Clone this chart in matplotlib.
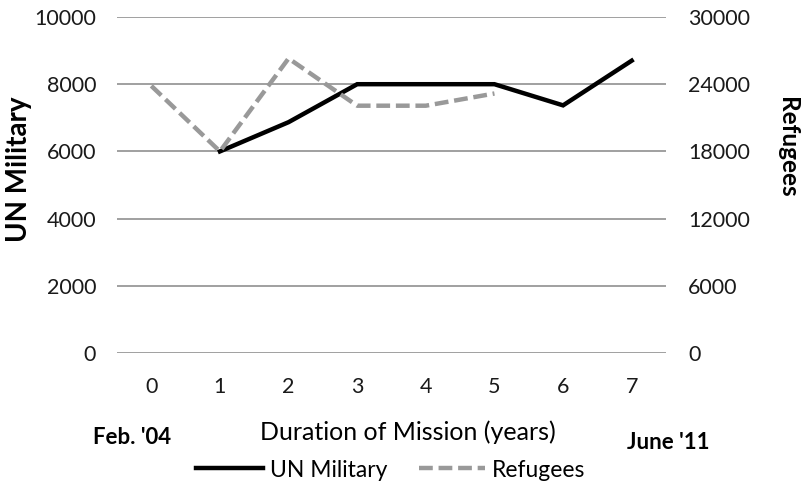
import matplotlib
matplotlib.use("Agg")
import matplotlib.pyplot as plt
import numpy as np

plt.rcParams['font.family'] = ['Lato', 'DejaVu Sans']

years = [0, 1, 2, 3, 4, 5, 6, 7]
mil_x = [1, 2, 3, 4, 5, 6, 7]
un_military = [6000, 6870, 8000, 8000, 8000, 7370, 8700]
ref_x = [0, 1, 2, 3, 4, 5]
refugees = [23850, 18000, 26300, 22080, 22080, 23170]
left_ticks = [0, 2000, 4000, 6000, 8000, 10000]
right_ticks = [0, 6000, 12000, 18000, 24000, 30000]

W, H = 806, 486
fig = plt.figure(figsize=(W/100, H/100), dpi=100)
ax = fig.add_axes([117/W, 1-353/H, 549/W, 336/H])
ax2 = ax.twinx()

ax.set_xlim(-0.5, 7.5)
ax.set_ylim(0, 10000)
ax2.set_ylim(0, 30000)
ax.set_yticks(left_ticks)
ax2.set_yticks(right_ticks)
ax.set_xticks(years)
ax.set_xticklabels([str(y) for y in years])

for a in (ax, ax2):
    for s in a.spines.values():
        s.set_visible(False)
    a.tick_params(length=0, labelsize=15.5, colors='#1a1a1a')
ax.tick_params(axis='y', pad=15)
ax2.tick_params(axis='y', pad=16)
ax.tick_params(axis='x', pad=17)

ax.grid(axis='y', color='#868686', linewidth=1.1)
ax.set_axisbelow(True)

l1, = ax.plot(mil_x, un_military, color='black', linewidth=3.2, solid_joinstyle='miter', label='UN Military')
l2, = ax2.plot(ref_x, refugees, color='#999999', linewidth=3.2, linestyle=(0, (3.1, 1.3)), label='Refugees')

fig.text(19/W, 1-169/H, 'UN Military', fontsize=20, fontweight='bold', rotation=90, ha='center', va='center')
fig.text(788/W, 1-147/H, 'Refugees', fontsize=17.5, fontweight='bold', rotation=270, ha='center', va='center')

fig.text(408/W, 1-432/H, 'Duration of Mission (years)', fontsize=18, ha='center', va='center')
fig.text(132/W, 1-437/H, "Feb. '04", fontsize=16, fontweight='bold', ha='center', va='center')
fig.text(668/W, 1-442/H, "June '11", fontsize=16, fontweight='bold', ha='center', va='center')

fig.legend(handles=[l1, l2], loc='center', bbox_to_anchor=(391/W, 1-470/H), ncol=2,
           frameon=False, fontsize=16.5, handlelength=2.9, columnspacing=1.4, handletextpad=0.3,
           borderpad=0, borderaxespad=0)

fig.savefig('out.png', dpi=100)
